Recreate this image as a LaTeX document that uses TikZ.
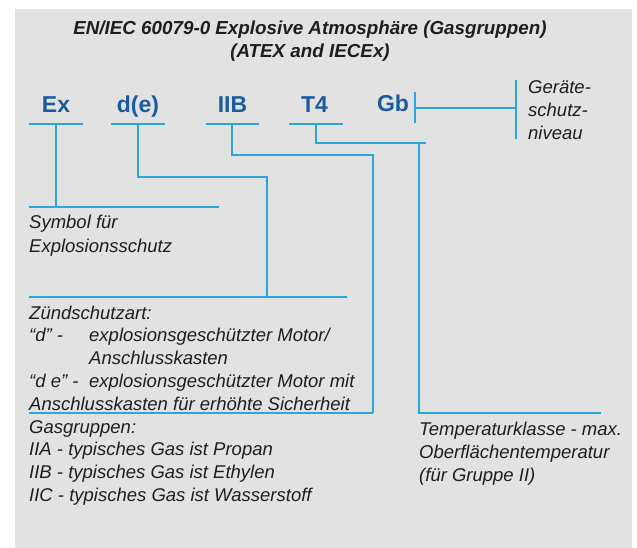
\documentclass[tikz,border=0pt]{standalone}
\usepackage{fontspec}
\setmainfont{Liberation Sans}
\definecolor{bggray}{HTML}{E2E2E2}
\definecolor{lblblue}{HTML}{1A5C9C}
\definecolor{lineblue}{HTML}{2AA7DF}
\definecolor{txt}{HTML}{1E1E1E}
\begin{document}
\begin{tikzpicture}[x=1pt,y=-1pt,
  title/.style={inner sep=0pt,anchor=base,font=\fontsize{18.8}{22}\selectfont\bfseries\itshape,text=txt},
  code/.style={inner sep=0pt,anchor=base,font=\fontsize{23}{26}\selectfont\bfseries,text=lblblue},
  body/.style={inner sep=0pt,anchor=base west,font=\fontsize{18.5}{22.8}\selectfont\itshape,text=txt},
  conn/.style={draw=lineblue,line width=1.5pt},
]
\useasboundingbox (0,0) rectangle (637,548);
\fill[bggray] (15,9) rectangle (632,548);

% title
\node[title] (t1) at (310,35) {EN/IEC 60079-0 Explosive Atmosphäre (Gasgruppen)};
\node[title] (t2) at (310,58) {(ATEX and IECEx)};

% code labels
\node[code] (ex) at (56,113) {Ex};
\node[code] (de) at (138,113) {d(e)};
\node[code] (iib) at (232.5,113) {IIB};
\node[code] (t4) at (314.5,113) {T4};
\node[code] (gb) at (393,112) {Gb};

% coordinates
\coordinate (exL) at (29,124); \coordinate (exR) at (83,124); \coordinate (exM) at (56,124);
\coordinate (deL) at (111,124); \coordinate (deR) at (165,124); \coordinate (deM) at (138,124);
\coordinate (ibL) at (206,124); \coordinate (ibR) at (259,124); \coordinate (ibM) at (232,124);
\coordinate (tfL) at (289,124); \coordinate (tfR) at (343,124); \coordinate (tfM) at (316,124);

\coordinate (symL) at (29,207); \coordinate (symR) at (219,207); \coordinate (symJ) at (56,207);
\coordinate (zuL) at (29,297); \coordinate (zuR) at (347,297); \coordinate (zuJ) at (267,297);
\coordinate (gaL) at (29,413); \coordinate (gaR) at (373,413);
\coordinate (tkL) at (419,413); \coordinate (tkR) at (601,413);

\coordinate (gbT) at (415,92); \coordinate (gbB) at (415,123); \coordinate (gbM) at (415,108);
\coordinate (gsM) at (516,108); \coordinate (gsT) at (516,80); \coordinate (gsB) at (516,139);

% underlines
\draw[conn] (exL) -- (exR);
\draw[conn] (deL) -- (deR);
\draw[conn] (ibL) -- (ibR);
\draw[conn] (tfL) -- (tfR);

% connectors
\draw[conn] (exM) -- (symJ);
\draw[conn] (symL) -- (symR);

\draw[conn] (deM) -- (138,177) -- (267,177) -- (zuJ);
\draw[conn] (zuL) -- (zuR);

\draw[conn] (ibM) -- (232,155) -- (373,155) -- (gaR);
\draw[conn] (gaL) -- (gaR);

\draw[conn] (tfM) -- (316,143) -- (426,143);
\draw[conn] (419,143) -- (tkL) -- (tkR);

\draw[conn] (gbT) -- (gbB);
\draw[conn] (gbM) -- (gsM);
\draw[conn] (gsT) -- (gsB);

% texts
\node[body] (g1) at (528,94) {Geräte-};
\node[body] (g2) at (528,117) {schutz-};
\node[body] (g3) at (528,139.5) {niveau};

\node[body] (s1) at (29,229) {Symbol für};
\node[body] (s2) at (29,252) {Explosionsschutz};

\node[body] (z1) at (29,319) {Zündschutzart:};
\node[body] (z2) at (29,341.8) {\makebox[60pt][l]{“d” -}explosionsgeschützter Motor/};
\node[body] (z3) at (89,364.6) {Anschlusskasten};
\node[body] (z4) at (29,387.4) {\makebox[60pt][l]{“d e” -}explosionsgeschützter Motor mit};
\node[body] (z5) at (29,410) {Anschlusskasten für erhöhte Sicherheit};

\node[body] (a1) at (29,433) {Gasgruppen:};
\node[body] (a2) at (29,455.8) {IIA - typisches Gas ist Propan};
\node[body] (a3) at (29,478.6) {IIB - typisches Gas ist Ethylen};
\node[body] (a4) at (29,501.4) {IIC - typisches Gas ist Wasserstoff};

\node[body] (k1) at (419,435) {Temperaturklasse - max.};
\node[body] (k2) at (419,458) {Oberflächentemperatur};
\node[body] (k3) at (419,481) {(für Gruppe II)};
\end{tikzpicture}
\end{document}
